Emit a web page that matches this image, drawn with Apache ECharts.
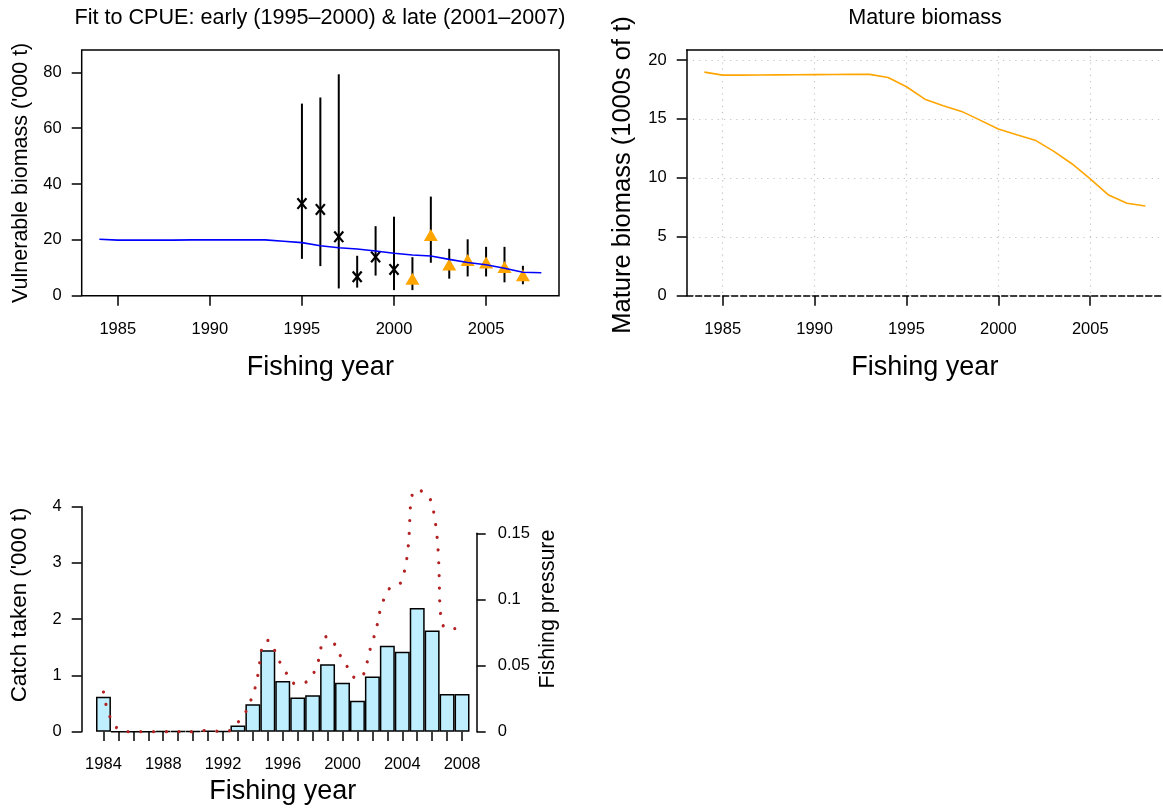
<!DOCTYPE html>
<html><head><meta charset="utf-8">
<script src="https://cdn.jsdelivr.net/npm/echarts/dist/echarts.min.js"></script>
<style>html,body{margin:0;padding:0;background:#fff}#c{width:1163px;height:809px}</style>
</head><body><div id="c"></div><script>
// ---- data ----
const years = [1984,1985,1986,1987,1988,1989,1990,1991,1992,1993,1994,1995,1996,1997,1998,1999,2000,2001,2002,2003,2004,2005,2006,2007,2008];
const yearTicks = [1985,1990,1995,2000,2005];
const vulnBiomass = [20.2,19.9,19.9,19.9,19.9,20.0,20.0,20.0,20.0,20.0,19.5,19.0,17.9,17.2,16.7,16.0,15.2,14.6,14.2,13.0,11.9,11.1,9.8,8.4,8.2];
const earlyYears = [1995,1996,1997,1998,1999,2000];
const earlyCpue  = [33.0,30.9,21.1,6.8,13.9,9.4];
const earlyLo    = [13.2,10.6,2.6,2.9,7.2,2.0];
const earlyHi    = [68.8,71.0,79.3,14.3,24.9,28.3];
const lateYears  = [2001,2002,2003,2004,2005,2006,2007];
const lateCpue   = [6.1,21.7,11.2,12.8,11.9,10.3,7.3];
const lateLo     = [2.0,11.8,6.1,6.9,6.9,4.8,4.1];
const lateHi     = [13.8,35.5,16.8,20.2,17.5,17.5,10.7];
const vulnTicks  = [0,20,40,60,80];
const matureBiomass = [18.97,18.72,18.72,18.73,18.74,18.75,18.76,18.77,18.78,18.78,18.52,17.73,16.68,16.12,15.64,14.90,14.14,13.66,13.20,12.27,11.20,9.92,8.54,7.84,7.61];
const matureTicks = [0,5,10,15,20];
const catchTaken = [0.62,0,0,0,0.01,0.01,0.005,0.02,0.005,0.11,0.49,1.45,0.90,0.61,0.65,1.20,0.87,0.55,0.98,1.53,1.42,2.20,1.80,0.67,0.67];
const catchTicks = [0,1,2,3,4];
const fishingPressure = [0.030,0.002,0,0,0,0,0,0.001,0,0.007,0.028,0.069,0.049,0.036,0.043,0.072,0.055,0.040,0.068,0.106,0.115,0.183,0.172,0.078,0.078];
const pressureTicks = [0,0.05,0.1,0.15];

// ---- chart ----
const FONT = "'Liberation Sans', Arial, Helvetica, sans-serif";
const BLACK = '#000';
const pairs = (xs, ys) => xs.map((x, i) => [x, ys[i]]);
const tickStyle = {color: BLACK, width: 1.5};
const lab = (extra) => Object.assign({show: true, color: BLACK, fontSize: 16.5, fontFamily: FONT, formatter: v => String(+(+v).toFixed(4))}, extra);
const tick = (len, vals) => ({show: true, inside: false, length: len, customValues: vals, lineStyle: tickStyle});
const nameStyle = (size) => ({color: BLACK, fontSize: size, fontFamily: FONT});
const vText = (text, x, y, size) => ({type: 'text', x: x, y: y, rotation: Math.PI / 2,
  style: {text: text, font: size + 'px ' + FONT, fill: BLACK, textAlign: 'center', textVerticalAlign: 'middle'}});

const chart = echarts.init(document.getElementById('c'));
chart.setOption({
  animation: false,
  backgroundColor: '#fff',
  grid: [
    {left: 81.7, top: 50, width: 477.3, height: 245.7, show: true, borderColor: BLACK, borderWidth: 1.5, backgroundColor: 'transparent'},
    {left: 686.7, top: 50, width: 477, height: 245.7, show: false},
    {left: 96, top: 506.7, width: 373.5, height: 225},
    {left: 96, top: 533.3, width: 373.5, height: 198.4}
  ],
  graphic: [
    {type: 'text', x: 320, y: 18.5, style: {text: 'Fit to CPUE: early (1995\u20132000) & late (2001\u20132007)', font: '21.6px ' + FONT, fill: BLACK, textAlign: 'center', textVerticalAlign: 'middle'}},
    {type: 'text', x: 925, y: 18.5, style: {text: 'Mature biomass', font: '21.6px ' + FONT, fill: BLACK, textAlign: 'center', textVerticalAlign: 'middle'}},
    vText('Mature biomass (1000s of t)', 623, 175, 25.5),
    vText("Catch taken ('000 t)", 20, 605, 22.4),
    vText('Fishing pressure', 548, 609, 21.5)
  ],
  xAxis: [
    {gridIndex: 0, type: 'value', min: 1983.04, max: 2008.96,
     axisLine: {show: false}, splitLine: {show: false},
     axisTick: tick(10, yearTicks),
     axisLabel: lab({customValues: yearTicks, margin: 25}),
     name: 'Fishing year', nameLocation: 'middle', nameGap: 58, nameTextStyle: nameStyle(27)},
    {gridIndex: 1, type: 'value', min: 1983.04, max: 2008.96,
     axisLine: {show: true, lineStyle: {color: BLACK, width: 1.5, type: [6, 3]}},
     splitLine: {show: true, lineStyle: {color: '#c4c4c4', width: 1.2, type: [1.2, 5]}},
     axisTick: tick(10, yearTicks),
     axisLabel: lab({customValues: yearTicks, margin: 25}),
     name: 'Fishing year', nameLocation: 'middle', nameGap: 58, nameTextStyle: nameStyle(27)},
    {gridIndex: 1, type: 'value', position: 'top', min: 1983.04, max: 2008.96,
     axisLine: {show: true, lineStyle: {color: BLACK, width: 1.5}},
     axisTick: {show: false}, axisLabel: {show: false}, splitLine: {show: false}},
    {gridIndex: 2, type: 'category', data: years.map(String), offset: 1.6,
     axisLine: {show: false}, splitLine: {show: false},
     axisTick: {show: true, alignWithLabel: true, interval: 0, length: 9.4, lineStyle: tickStyle},
     axisLabel: {show: true, interval: 3, margin: 23, color: BLACK, fontSize: 16.5, fontFamily: FONT},
     name: 'Fishing year', nameLocation: 'middle', nameGap: 45, nameTextStyle: nameStyle(27)},
    {gridIndex: 3, type: 'category', data: years.map(String), show: false}
  ],
  yAxis: [
    {gridIndex: 0, type: 'value', min: 0, max: 88,
     axisLine: {show: false}, splitLine: {show: false},
     axisTick: tick(10, vulnTicks),
     axisLabel: lab({customValues: vulnTicks, margin: 20}),
     name: "Vulnerable biomass ('000 t)", nameLocation: 'middle', nameGap: 50, nameRotate: 90, nameTextStyle: nameStyle(21.5)},
    {gridIndex: 1, type: 'value', min: 0, max: 20.85,
     axisLine: {show: true, lineStyle: {color: BLACK, width: 1.5}},
     splitLine: {show: true, lineStyle: {color: '#c4c4c4', width: 1.2, type: [1.2, 5]}},
     axisTick: tick(10, matureTicks),
     axisLabel: lab({customValues: matureTicks, margin: 20})},
    {gridIndex: 2, type: 'value', min: 0, max: 4, offset: 14.3,
     axisLine: {show: true, lineStyle: {color: BLACK, width: 1.5}}, splitLine: {show: false},
     axisTick: tick(10, catchTicks),
     axisLabel: lab({customValues: catchTicks, margin: 20})},
    {gridIndex: 3, type: 'value', position: 'right', min: 0, max: 0.15, offset: 7.2,
     axisLine: {show: true, lineStyle: {color: BLACK, width: 1.5}}, splitLine: {show: false},
     axisTick: tick(9, pressureTicks),
     axisLabel: lab({customValues: pressureTicks, margin: 21})}
  ],
  series: [
    {type: 'line', xAxisIndex: 0, yAxisIndex: 0, data: pairs(years, vulnBiomass), symbol: 'none',
     lineStyle: {color: '#0000FF', width: 1.6}},
    {type: 'scatter', xAxisIndex: 0, yAxisIndex: 0, data: pairs(lateYears, lateCpue),
     symbol: 'triangle', symbolSize: [14, 12], itemStyle: {color: '#FFA500', opacity: 1}},
    {type: 'custom', xAxisIndex: 0, yAxisIndex: 0,
     data: earlyYears.map((y, i) => [y, earlyCpue[i], earlyLo[i], earlyHi[i]]).concat(lateYears.map((y, i) => [y, lateCpue[i], lateLo[i], lateHi[i]])),
     renderItem: (params, api) => {
       const x = api.value(0);
       const a = api.coord([x, api.value(2)]), b = api.coord([x, api.value(3)]);
       return {type: 'line', shape: {x1: a[0], y1: a[1], x2: b[0], y2: b[1]}, style: {stroke: BLACK, lineWidth: 2}};
     }},
    {type: 'custom', xAxisIndex: 0, yAxisIndex: 0, data: pairs(earlyYears, earlyCpue),
     renderItem: (params, api) => {
       const p = api.coord([api.value(0), api.value(1)]);
       const hw = 4.5, hh = 5.3;
       return {type: 'group', children: [
         {type: 'line', shape: {x1: p[0] - hw, y1: p[1] - hh, x2: p[0] + hw, y2: p[1] + hh}, style: {stroke: BLACK, lineWidth: 2.2}},
         {type: 'line', shape: {x1: p[0] + hw, y1: p[1] - hh, x2: p[0] - hw, y2: p[1] + hh}, style: {stroke: BLACK, lineWidth: 2.2}}
       ]};
     }},
    {type: 'line', xAxisIndex: 1, yAxisIndex: 1, data: pairs(years, matureBiomass), symbol: 'none',
     lineStyle: {color: '#FFA500', width: 1.6}},
    {type: 'bar', xAxisIndex: 3, yAxisIndex: 2, data: catchTaken, barCategoryGap: '0%',
     itemStyle: {color: '#BFEFFF', borderColor: BLACK, borderWidth: 1.5}},
    {type: 'line', xAxisIndex: 4, yAxisIndex: 3, data: fishingPressure, symbol: 'none', smooth: 0.5, clip: false,
     lineStyle: {color: '#B22222', width: 3.2, type: [0.01, 12.7], cap: 'round'}}
  ]
});
</script></body></html>
